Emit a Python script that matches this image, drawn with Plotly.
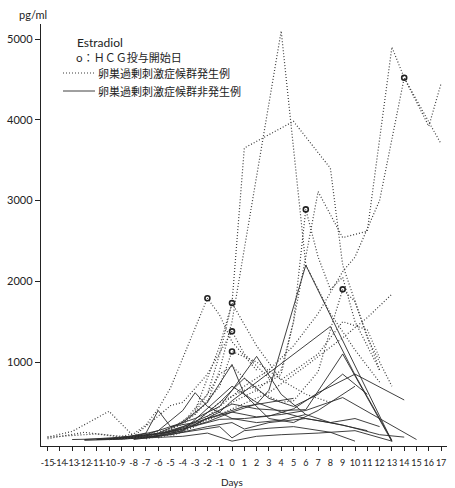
import plotly.graph_objects as go

# Serum estradiol (pg/ml) by day, one list per patient.
# OHSS cases (dotted lines)
ohss_days = [
    [-15, -13, -11, -9, -8, -7, -6, -5, -4, -3, -2, -1, 0, 2],
    [-9, -7, -5, -3, -2, -1, 0, 1, 5, 8, 9, 11, 13],
    [-8, -6, -4, -2, -1, 0, 4, 6, 8, 10, 12],
    [-6, -4, -2, 0, 2, 4, 5, 6, 7, 9, 11, 13, 14, 16, 17],
    [-5, -3, -1, 1, 3, 5, 7, 9, 10, 12, 14, 17],
    [-7, -5, -3, -1, 1, 3, 4, 5, 6, 7, 8, 9, 10, 12],
    [-10, -7, -4, -2, 0, 3, 6, 9, 11, 13],
    [-4, -2, -1, 0, 2, 4, 5, 7, 8, 9, 10, 12],
    [-15, -13, -10, -8, -6, -5, -4, -2, 0, 1, 3],
    [-15, -12, -9, -7, -5, -3, -1, 0, 2, 4, 7, 9, 11, 12],
    [-3, -1, 0, 2, 4, 6, 8],
]
ohss_values = [
    [70, 90, 110, 80, 110, 220, 420, 680, 1050, 1420, 1790, 1580, 1250, 900],
    [50, 70, 160, 380, 600, 1100, 1730, 3650, 3980, 3400, 2200, 1300, 700],
    [60, 110, 230, 500, 900, 1500, 5100, 2200, 1600, 1150, 750],
    [60, 150, 300, 500, 650, 900, 1500, 2300, 3110, 2540, 2620, 4900, 4520, 3920, 4450],
    [80, 200, 450, 700, 900, 1200, 1600, 2120, 2300, 3000, 4520, 3700],
    [50, 110, 250, 500, 650, 750, 850, 1500, 2890, 2300, 1900, 2050, 1500, 900],
    [40, 70, 160, 280, 420, 620, 950, 1300, 1550, 1840],
    [250, 600, 850, 950, 650, 500, 520, 880, 1400, 1900, 1750, 900],
    [70, 140, 390, 80, 330, 460, 500, 850, 1380, 1100, 800],
    [50, 130, 70, 90, 180, 350, 700, 1130, 1000, 780, 1100, 1500, 1400, 1050],
    [400, 1200, 1730, 1200, 780, 600, 500],
]
# day of first HCG dose for each OHSS case (None = not shown)
ohss_hcg_day = [-2, 0, None, None, 14, 6, None, 9, 0, 0, None]

# Non-OHSS cases (solid lines)
non_days = [
    [-10, -8, -6, -4, -2, 0, 2, 3, 6, 13],
    [-9, -7, -5, -3, -1, 0, 8, 10, 13],
    [-8, -6, -4, -2, 0, 2, 4, 6, 9, 13],
    [-9, -7, -5, -3, -1, 1, 3, 5, 7, 10, 14],
    [-8, -6, -4, -2, 0, 2, 4, 6, 9, 15],
    [-9, -7, -5, -3, -1, 0, 2, 4, 6, 8, 11],
    [-10, -8, -6, -4, -2, 0, 1, 3, 5, 7, 10],
    [-12, -10, -8, -6, -4, -3, -2, 0, 2, 4, 6],
    [-11, -9, -7, -6, -5, -3, -1, 1, 3, 5],
    [-13, -10, -7, -4, -2, 0, 2, 4, 7, 10, 13],
    [-12, -9, -6, -3, -1, 0, 1, 3, 5, 8, 10],
    [-11, -8, -5, -2, 0, 1, 3, 6, 9, 12, 14],
    [-9, -6, -3, -1, 1, 3, 5, 7, 9, 11],
    [-10, -7, -4, -2, 0, 2, 4, 6, 8, 10, 12],
]
non_values = [
    [50, 80, 110, 170, 260, 380, 480, 650, 2200, 20],
    [60, 90, 140, 230, 380, 520, 1440, 840, 30],
    [70, 110, 200, 330, 480, 420, 400, 410, 1100, 15],
    [60, 90, 130, 210, 290, 300, 330, 420, 620, 850, 530],
    [40, 80, 150, 300, 380, 320, 350, 400, 560, 40],
    [70, 100, 200, 300, 450, 650, 1070, 600, 350, 250, 150],
    [50, 70, 120, 250, 500, 970, 600, 300, 250, 400, 700],
    [40, 60, 80, 150, 400, 620, 450, 300, 250, 280, 350],
    [40, 60, 120, 400, 200, 250, 350, 450, 500, 550],
    [40, 50, 60, 80, 120, 20, 80, 100, 120, 150, 20],
    [30, 45, 80, 150, 200, 60, 150, 180, 200, 130, 20],
    [40, 60, 100, 200, 250, 170, 250, 300, 220, 100, 70],
    [50, 90, 250, 500, 800, 550, 450, 600, 850, 600],
    [40, 60, 150, 420, 700, 500, 380, 300, 250, 300, 200],
]

day_ticks = list(range(-15, 18))
e2_ticks = [1000, 2000, 3000, 4000, 5000]

W, H = 455, 488
ML, MR, MT, MB = 41, 8, 24, 42
PW, PH = W - ML - MR, H - MT - MB

SOLID = dict(color="#2a2a2a", width=0.9)
DOTTED = dict(color="#3c3c3c", width=1.2, dash="1px,2px")


def px(x):
    return (x - ML) / PW


def py(y):
    return (H - MB - y) / PH


fig = go.Figure()

for d, v in zip(non_days, non_values):
    fig.add_trace(go.Scatter(x=d, y=v, mode="lines", showlegend=False,
                             line=SOLID, hoverinfo="skip"))

for d, v in zip(ohss_days, ohss_values):
    fig.add_trace(go.Scatter(x=d, y=v, mode="lines", showlegend=False,
                             line=DOTTED, hoverinfo="skip"))

hx, hy = [], []
for d, v, h in zip(ohss_days, ohss_values, ohss_hcg_day):
    if h is not None:
        hx.append(h)
        hy.append(v[d.index(h)])
fig.add_trace(go.Scatter(x=hx, y=hy, mode="markers", showlegend=False,
                         marker=dict(symbol="circle-open", size=5, color="#222",
                                     line=dict(color="#222", width=1.6)),
                         hoverinfo="skip"))

axis_font = dict(family="Lato, Noto Sans, sans-serif", size=11, color="#222")
cjk = "Noto Sans CJK JP"

fig.update_layout(
    width=W, height=H, autosize=False,
    margin=dict(l=ML, r=MR, t=MT, b=MB),
    paper_bgcolor="white", plot_bgcolor="white",
    xaxis=dict(range=[-15.53, 17.48], showgrid=False, zeroline=False,
               showline=True, linecolor="#222", linewidth=1.3,
               ticks="outside", ticklen=4, tickwidth=1, tickcolor="#222",
               tickvals=day_ticks, ticktext=[str(t) for t in day_ticks],
               tickfont=dict(family="Lato, sans-serif", size=9, color="#222"),
               ticklabelstandoff=4, tickangle=0),
    yaxis=dict(range=[-40, 5186], showgrid=False, zeroline=False,
               showline=True, linecolor="#222", linewidth=1.3,
               ticks="outside", ticklen=5, tickwidth=1, tickcolor="#222",
               tickvals=e2_ticks, ticktext=[str(t) for t in e2_ticks],
               tickfont=axis_font),
)

ann = [
    dict(x=px(33), y=py(14), text="pg/ml", font=axis_font, xanchor="center"),
    dict(x=px(232), y=py(482), text="Days",
         font=dict(family="Lato, sans-serif", size=10, color="#222"), xanchor="center"),
    dict(x=px(75), y=py(43), text="Estradiol",
         font=dict(family="Lato, sans-serif", size=12, color="#222"), xanchor="left"),
    dict(x=px(74), y=py(57), text="o：ＨＣＧ投与開始日",
         font=dict(family=cjk, size=11, color="#222"), xanchor="left"),
    dict(x=px(96), y=py(73), text="卵巣過剰刺激症候群発生例",
         font=dict(family=cjk, size=11, color="#222"), xanchor="left"),
    dict(x=px(96), y=py(91), text="卵巣過剰刺激症候群非発生例",
         font=dict(family=cjk, size=11, color="#222"), xanchor="left"),
]
for a in ann:
    fig.add_annotation(xref="paper", yref="paper", showarrow=False,
                       yanchor="middle", **a)

fig.add_shape(type="line", xref="paper", yref="paper",
              x0=px(63), x1=px(95), y0=py(73), y1=py(73), line=DOTTED)
fig.add_shape(type="line", xref="paper", yref="paper",
              x0=px(63), x1=px(95), y0=py(91), y1=py(91), line=SOLID)

fig.write_html("out.html")
